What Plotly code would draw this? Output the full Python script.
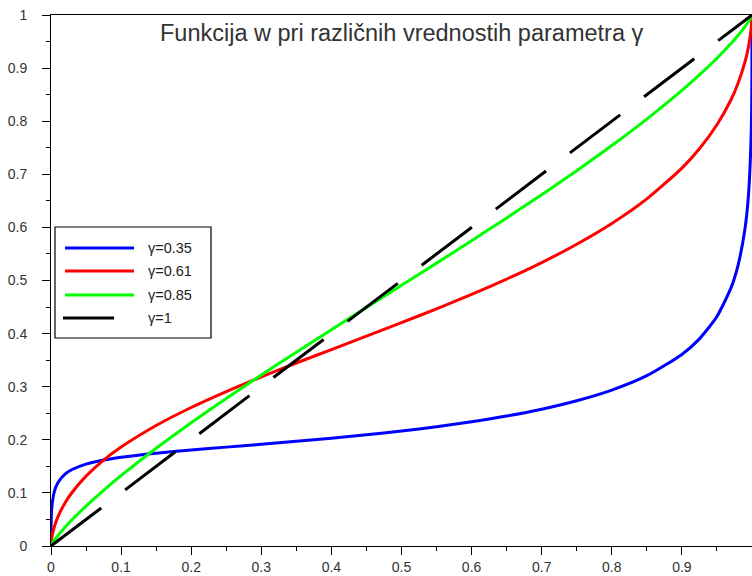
import plotly.graph_objects as go

# probability values p (x axis)
p = [0, 0.0001, 0.001, 0.005, 0.01, 0.02, 0.03, 0.05, 0.075, 0.1, 0.15, 0.2, 0.25,
     0.3, 0.35, 0.4, 0.45, 0.5, 0.55, 0.6, 0.65, 0.7, 0.75, 0.8, 0.85, 0.9,
     0.925, 0.95, 0.97, 0.98, 0.99, 0.995, 0.999, 0.9999, 1]

w_035 = [0, 0.0356, 0.0699, 0.1037, 0.1196, 0.1353, 0.1440, 0.1543, 0.1619, 0.1672,
         0.1748, 0.1807, 0.1862, 0.1915, 0.1971, 0.2030, 0.2094, 0.2166, 0.2246,
         0.2339, 0.2447, 0.2576, 0.2735, 0.2936, 0.3207, 0.3608, 0.3901, 0.4323,
         0.4860, 0.5282, 0.5976, 0.6617, 0.7840, 0.8945, 1]

w_061 = [0, 0.0036, 0.0145, 0.0372, 0.0553, 0.0811, 0.1008, 0.1316, 0.1616, 0.1863,
         0.2269, 0.2608, 0.2908, 0.3184, 0.3446, 0.3700, 0.3952, 0.4206, 0.4467,
         0.4739, 0.5027, 0.5338, 0.5683, 0.6074, 0.6537, 0.7117, 0.7481, 0.7932,
         0.8404, 0.8711, 0.9116, 0.9402, 0.9766, 0.9941, 1]

w_085 = [0, 0.0004, 0.0028, 0.0110, 0.0197, 0.0352, 0.0493, 0.0752, 0.1049, 0.1325,
         0.1840, 0.2321, 0.2779, 0.3220, 0.3650, 0.4073, 0.4492, 0.4909, 0.5327,
         0.5749, 0.6178, 0.6617, 0.7069, 0.7541, 0.8040, 0.8580, 0.8871, 0.9186,
         0.9463, 0.9615, 0.9783, 0.9878, 0.9968, 0.9996, 1]

w_1 = [0, 1]
p_1 = [0, 1]

labels = ["γ=0.35", "γ=0.61", "γ=0.85", "γ=1"]
colors = ["#0000ff", "#ff0000", "#00ff00", "#000000"]
title_text = "Funkcija w pri različnih vrednostih parametra γ"

x_ticks = [0, 0.1, 0.2, 0.3, 0.4, 0.5, 0.6, 0.7, 0.8, 0.9, 1]
x_ticktext = ["0", "0.1", "0.2", "0.3", "0.4", "0.5", "0.6", "0.7", "0.8", "0.9", "1"]
y_ticks = [0, 0.1, 0.2, 0.3, 0.4, 0.5, 0.6, 0.7, 0.8, 0.9, 1]
y_ticktext = ["0", "0.1", "0.2", "0.3", "0.4", "0.5", "0.6", "0.7", "0.8", "0.9", "1"]

W, H = 752, 576
ML, MR, MT, MB = 51, 0, 15, 30
PW = W - ML - MR
PH = H - MT - MB


def px_x(px):
    return (px - ML) / PW


def px_y(py):
    return (H - MB - py) / PH


fig = go.Figure()
series = [(p, w_035), (p, w_061), (p, w_085), (p_1, w_1)]
for i, (xs, ys) in enumerate(series):
    line = dict(color=colors[i], width=3)
    if i == 3:
        line["dash"] = "63px,30px"
    else:
        line["shape"] = "spline"
        line["smoothing"] = 0.6
    fig.add_trace(go.Scatter(x=xs, y=ys, mode="lines", line=line,
                             name=labels[i], showlegend=False, hoverinfo="skip"))

# custom legend
shapes = [dict(type="rect", xref="paper", yref="paper",
               x0=px_x(55), x1=px_x(211), y0=px_y(338), y1=px_y(227),
               line=dict(color="black", width=1.2), fillcolor="white", layer="above")]
annotations = []
leg_y = [248, 271, 295, 318]
for i, ly in enumerate(leg_y):
    x0, x1 = (65, 134) if i < 3 else (63, 114)
    shapes.append(dict(type="line", xref="paper", yref="paper",
                       x0=px_x(x0), x1=px_x(x1), y0=px_y(ly), y1=px_y(ly),
                       line=dict(color=colors[i], width=3), layer="above"))
    annotations.append(dict(x=px_x(146), y=px_y(ly), xref="paper", yref="paper",
                            text=labels[i], showarrow=False, xanchor="left",
                            yanchor="middle",
                            font=dict(family="Liberation Sans", size=14.5, color="#222")))

annotations.append(dict(x=px_x(402), y=px_y(33), xref="paper", yref="paper",
                        text=title_text, showarrow=False, xanchor="center",
                        yanchor="middle",
                        font=dict(family="Liberation Sans", size=23.5, color="#333")))

axis_common = dict(showline=True, linecolor="black", linewidth=1, mirror=True,
                   ticks="outside", ticklen=8, tickcolor="black", tickwidth=1,
                   showgrid=False, zeroline=False, automargin=False,
                   tickfont=dict(family="Liberation Sans", size=14, color="#333"),
                   minor=dict(ticks="outside", ticklen=4, dtick=0.05, tick0=0,
                              tickcolor="black", tickwidth=1, showgrid=False))

fig.update_layout(
    width=W, height=H, template="none",
    paper_bgcolor="white", plot_bgcolor="white",
    margin=dict(l=ML, r=MR, t=MT, b=MB, pad=0),
    xaxis=dict(range=[0, 1], tickvals=x_ticks, ticktext=x_ticktext,
               ticklabelstandoff=0, **axis_common),
    yaxis=dict(range=[0, 1], tickvals=y_ticks, ticktext=y_ticktext,
               ticklabelstandoff=12, **axis_common),
    shapes=shapes, annotations=annotations, showlegend=False,
)

fig.write_html("out.html", config={"displayModeBar": False},
               post_script="document.body.style.margin='0';"
                           "document.body.style.overflow='hidden';")
